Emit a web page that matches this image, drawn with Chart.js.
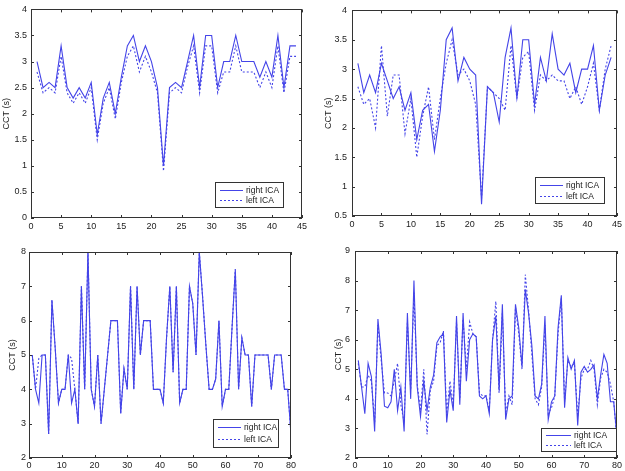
<!DOCTYPE html>
<html><head><meta charset="utf-8">
<script src="https://cdn.jsdelivr.net/npm/chart.js@4/dist/chart.umd.min.js"></script>
<style>
html,body{margin:0;padding:0;background:#fff;}
#wrap{position:relative;width:625px;height:471px;background:#fff;}
canvas{position:absolute;}
</style></head><body>
<div id="wrap">
<canvas id="c1" style="left:0;top:0;width:312px;height:235px" width="312" height="235"></canvas>
<canvas id="c2" style="left:312px;top:0;width:313px;height:235px" width="313" height="235"></canvas>
<canvas id="c3" style="left:0;top:235px;width:312px;height:236px" width="312" height="236"></canvas>
<canvas id="c4" style="left:312px;top:235px;width:313px;height:236px" width="313" height="236"></canvas>
</div>
<script>
// ---- data ----
const seriesNames = ['right ICA', 'left ICA'];
const yTitle = 'CCT (s)';

const p1Right = [3.0,2.5,2.6,2.5,3.3,2.5,2.3,2.5,2.3,2.6,1.6,2.3,2.6,2.0,2.7,3.3,3.5,3.0,3.3,3.0,2.5,1.0,2.5,2.6,2.5,3.0,3.5,2.5,3.5,3.5,2.5,3.0,3.0,3.5,3.0,3.0,3.0,2.7,3.0,2.7,3.5,2.5,3.3,3.3];
const p1Left  = [2.8,2.4,2.5,2.4,3.1,2.4,2.2,2.4,2.2,2.5,1.5,2.2,2.5,1.9,2.6,3.1,3.3,2.8,3.1,2.8,2.4,0.9,2.4,2.5,2.4,2.9,3.3,2.4,3.3,3.3,2.4,2.8,2.8,3.3,2.8,2.8,2.8,2.5,2.8,2.5,3.3,2.4,3.1,3.1];

const p2Right = [3.1,2.6,2.9,2.6,3.1,2.8,2.5,2.7,2.3,2.6,1.8,2.3,2.4,1.6,2.3,3.5,3.7,2.8,3.2,3.0,2.9,0.7,2.7,2.6,2.1,3.2,3.7,2.5,3.5,3.5,2.4,3.2,2.8,3.6,3.0,2.9,3.1,2.6,3.0,3.0,3.4,2.3,2.9,3.2];
const p2Left  = [2.7,2.4,2.5,2.0,3.4,2.2,2.9,2.9,1.9,2.5,1.5,2.2,2.7,1.8,2.5,3.1,3.5,2.9,3.0,2.8,2.4,0.8,2.7,2.6,2.5,2.3,3.4,2.5,3.2,3.3,2.3,2.9,2.8,2.9,2.8,2.8,2.5,2.7,2.4,2.7,3.1,2.3,3.0,3.4];

const p3Right = [5.0,4.0,3.6,5.0,5.0,2.7,6.6,5.2,3.6,4.0,4.0,5.0,3.6,4.0,3.0,7.0,4.0,8.0,4.0,3.5,5.0,3.0,4.0,5.0,6.0,6.0,6.0,3.3,4.6,4.0,7.0,4.0,7.0,5.0,6.0,6.0,6.0,4.0,4.0,4.0,3.6,5.5,7.0,4.5,7.0,3.6,4.0,4.0,7.0,6.5,5.0,8.0,6.7,5.3,4.0,4.0,4.3,6.0,3.5,4.0,4.0,5.8,7.5,4.0,5.5,5.0,5.0,3.5,5.0,5.0,5.0,5.0,5.0,4.0,5.0,5.0,5.0,4.0,4.0,2.7];
const p3Left  = [5.0,4.0,4.9,5.0,5.0,2.7,6.6,5.2,3.6,4.0,4.0,5.0,4.9,4.0,3.0,7.0,4.0,8.0,4.0,3.5,5.0,3.0,4.0,5.0,6.0,6.0,6.0,3.3,4.6,4.0,7.0,4.0,7.0,5.0,6.0,6.0,6.0,4.0,4.0,4.0,3.6,5.5,7.0,4.5,7.0,3.6,4.0,4.0,7.0,6.5,5.0,8.0,6.7,5.3,4.0,4.0,4.3,6.0,3.5,4.0,4.0,5.8,7.5,4.0,5.5,5.0,5.0,3.5,5.0,5.0,5.0,5.0,5.0,4.0,5.0,5.0,5.0,4.0,4.0,2.7];

const p4Right = [5.3,4.4,3.5,5.2,4.75,2.9,6.7,5.5,3.75,3.7,3.9,5.0,3.6,4.4,2.9,6.9,4.0,8.0,4.4,3.4,4.6,3.6,4.4,4.8,5.9,6.1,6.2,3.2,4.3,3.6,6.8,3.8,6.9,4.6,6.0,6.2,6.1,4.1,4.0,4.1,3.5,6.0,6.8,4.3,7.2,3.3,4.0,4.1,7.2,6.4,5.1,7.7,6.9,5.8,4.1,4.0,4.5,6.8,3.3,3.9,4.1,6.4,7.5,3.7,5.4,5.0,5.3,3.1,4.9,5.1,4.9,5.0,5.15,4.0,4.8,5.5,5.2,3.9,3.9,2.7];
const p4Left  = [5.2,4.4,4.4,4.8,4.6,3.2,6.5,5.3,4.2,4.2,4.1,4.6,5.2,3.8,3.2,6.6,4.3,7.6,4.5,3.6,5.0,2.8,4.3,4.6,5.8,5.9,6.3,3.5,4.6,3.8,6.6,4.0,6.7,5.0,6.6,6.2,6.1,4.2,4.1,4.1,3.6,6.0,7.3,4.2,6.9,3.5,4.1,3.8,7.1,6.2,5.0,8.2,7.0,5.5,4.0,3.8,4.4,6.5,3.5,3.7,4.1,6.2,7.4,3.9,5.3,5.1,5.2,3.4,4.7,5.0,5.0,5.3,5.0,3.8,4.7,5.0,4.9,4.5,3.9,2.6];

const xTicks45 = [0,5,10,15,20,25,30,35,40,45];
const xTicks80 = [0,10,20,30,40,50,60,70,80];

// ---- styles ----
const LINE = '#4444e8';
const AX = '#333333';
const FONT = 'Liberation Sans, Arial, sans-serif';

const boxPlugin = {
  id: 'mbox',
  afterDraw(chart, args, opts) {
    const ctx = chart.ctx, a = chart.chartArea;
    const xs = chart.scales.x, ys = chart.scales.y;
    ctx.save();
    ctx.strokeStyle = AX; ctx.lineWidth = 1;
    ctx.strokeRect(Math.round(a.left)+0.5, Math.round(a.top)+0.5, Math.round(a.right-a.left)-1, Math.round(a.bottom-a.top)-1);
    const L = 3;
    ctx.beginPath();
    xs.ticks.forEach(t => {
      const px = Math.round(xs.getPixelForValue(t.value)) + 0.5;
      ctx.moveTo(px, a.bottom); ctx.lineTo(px, a.bottom - L);
      ctx.moveTo(px, a.top); ctx.lineTo(px, a.top + L);
    });
    ys.ticks.forEach(t => {
      const py = Math.round(ys.getPixelForValue(t.value)) + 0.5;
      ctx.moveTo(a.left, py); ctx.lineTo(a.left + L, py);
      ctx.moveTo(a.right, py); ctx.lineTo(a.right - L, py);
    });
    ctx.stroke();
    // legend
    const b = opts.box;
    if (b) {
      ctx.fillStyle = '#fff';
      ctx.fillRect(b.x, b.y, b.w, b.h);
      ctx.strokeStyle = AX;
      ctx.strokeRect(b.x + 0.5, b.y + 0.5, b.w, b.h);
      ctx.font = '8.5px ' + FONT;
      ctx.textBaseline = 'middle';
      chart.data.datasets.forEach((ds, i) => {
        const yy = Math.round(b.y + b.h * (i === 0 ? 0.3 : 0.72)) + 0.5;
        ctx.strokeStyle = ds.borderColor; ctx.lineWidth = 1;
        ctx.setLineDash(ds.borderDash || []);
        ctx.beginPath(); ctx.moveTo(b.x + 5, yy); ctx.lineTo(b.x + b.lw, yy); ctx.stroke();
        ctx.setLineDash([]);
        ctx.fillStyle = '#222';
        ctx.fillText(ds.label, b.x + b.lw + 3, yy);
      });
    }
    ctx.restore();
  }
};

function pts(arr) { return arr.map((v, i) => ({x: i + 1, y: v})); }

function makeChart(id, right, left, cfg) {
  new Chart(document.getElementById(id), {
    type: 'line',
    data: {
      datasets: [
        {label: seriesNames[0], data: pts(right), borderColor: LINE, borderWidth: 1.1, pointRadius: 0, tension: 0, fill: false},
        {label: seriesNames[1], data: pts(left), borderColor: LINE, borderWidth: 1.1, borderDash: [2, 2], pointRadius: 0, tension: 0, fill: false}
      ]
    },
    options: {
      responsive: false, animation: false, devicePixelRatio: 1,
      layout: {padding: {top: cfg.top, right: cfg.right, left: 0, bottom: 0}},
      plugins: {legend: {display: false}, tooltip: {enabled: false}, mbox: {box: cfg.box}},
      scales: {
        x: {
          type: 'linear', min: cfg.xmin, max: cfg.xmax,
          afterBuildTicks: s => { s.ticks = cfg.xticks.map(v => ({value: v})); },
          grid: {display: false, drawTicks: false},
          border: {display: false},
          ticks: {color: '#222', font: {family: FONT, size: 9}, padding: cfg.xpad, maxRotation: 0, autoSkip: false, callback: v => String(v)},
          afterFit: s => { s.height = cfg.xh; }
        },
        y: {
          type: 'linear', min: cfg.ymin, max: cfg.ymax,
          afterBuildTicks: s => { s.ticks = cfg.yticks.map(v => ({value: v})); },
          grid: {display: false, drawTicks: false},
          border: {display: false},
          ticks: {color: '#222', font: {family: FONT, size: 9}, padding: cfg.ypad, autoSkip: false, callback: v => String(v)},
          title: {display: true, text: yTitle, color: '#222', font: {family: FONT, size: 9}, padding: {top: cfg.tpad, bottom: 0}},
          afterFit: s => { s.width = cfg.yw; }
        }
      }
    },
    plugins: [boxPlugin]
  });
}

const yT1 = [0,0.5,1,1.5,2,2.5,3,3.5,4];
const yT2 = [0.5,1,1.5,2,2.5,3,3.5,4];
const yT3 = [2,3,4,5,6,7,8];
const yT4 = [2,3,4,5,6,7,8,9];

makeChart('c1', p1Right, p1Left, {top: 7, right: 10, yw: 31, xh: 17, xmin: 0, xmax: 45, xticks: xTicks45, ymin: 0, ymax: 4, yticks: yT1, xpad: 3, ypad: 4, tpad: 1,
  box: {x: 215, y: 182, w: 68, h: 25, lw: 28}});
makeChart('c2', p2Right, p2Left, {top: 7, right: 7, yw: 40, xh: 19, xmin: 0, xmax: 45, xticks: xTicks45, ymin: 0.5, ymax: 4, yticks: yT2, xpad: 3, ypad: 5, tpad: 11,
  box: {x: 223, y: 177, w: 69, h: 26, lw: 28}});
makeChart('c3', p3Right, p3Left, {top: 17, right: 21, yw: 29, xh: 13, xmin: 0, xmax: 80, xticks: xTicks80, ymin: 2, ymax: 8, yticks: yT3, xpad: 2, ypad: 3, tpad: 7,
  box: {x: 213, y: 184, w: 65, h: 28, lw: 28}});
makeChart('c4', p4Right, p4Left, {top: 16, right: 8, yw: 43, xh: 13, xmin: 0, xmax: 80, xticks: xTicks80, ymin: 2, ymax: 9, yticks: yT4, xpad: 2, ypad: 5, tpad: 21,
  box: {x: 229, y: 193, w: 75, h: 23, lw: 30}});
</script>
</body></html>
